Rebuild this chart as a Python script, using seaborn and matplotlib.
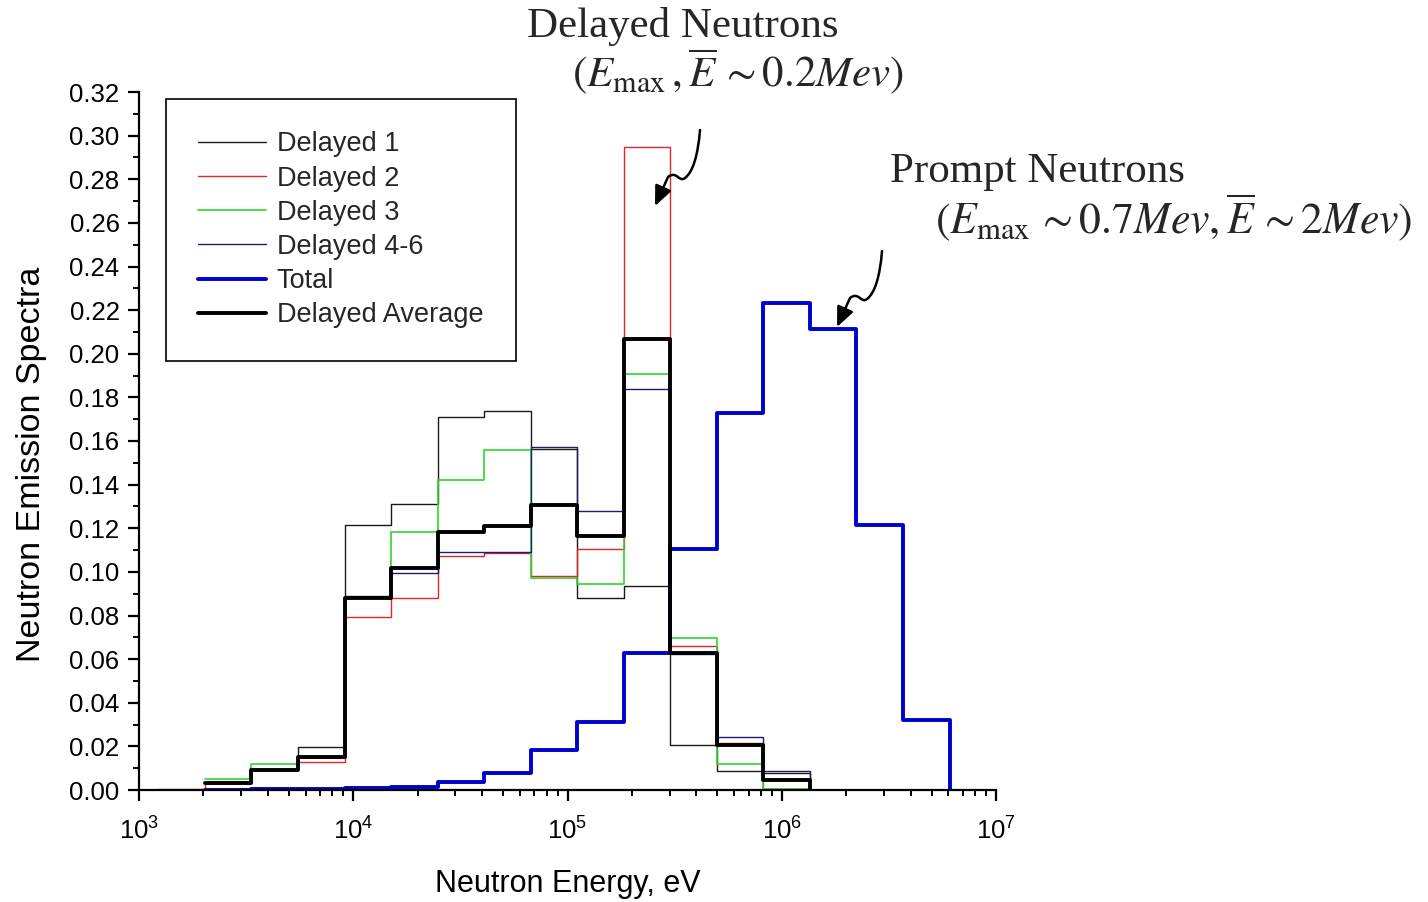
import numpy as np
import pandas as pd
import matplotlib
matplotlib.use("Agg")
import matplotlib.pyplot as plt
from matplotlib.path import Path
from matplotlib.patches import FancyArrowPatch
from matplotlib.ticker import MultipleLocator, FormatStrFormatter, LogLocator
import seaborn as sns

# =========================
# Setup
# =========================
sns.set_theme(style="ticks")
plt.rcParams["font.family"] = ["Liberation Sans", "DejaVu Sans"]

W, H = 1428, 902

# =========================
# Data (lower bin edges in eV, half-lethargy groups)
# =========================
nan = np.nan
energy_edges = [1.23e3, 2.03e3, 3.35e3, 5.53e3, 9.12e3, 1.50e4, 2.48e4, 4.09e4, 6.74e4,
                1.11e5, 1.83e5, 3.02e5, 4.98e5, 8.21e5, 1.35e6, 2.23e6, 3.68e6, 6.07e6]

delayed_1 = [nan, 0.0030, 0.0095, 0.0199, 0.1214, 0.1309, 0.1708, 0.1738, 0.1565,
             0.0879, 0.0933, 0.0206, 0.0087, 0.0080, 0.0, nan, nan, nan]
delayed_2 = [0.0006, 0.0030, 0.0092, 0.0128, 0.0792, 0.0879, 0.1073, 0.1085, 0.0981,
             0.1104, 0.2950, 0.0660, 0.0214, 0.0006, 0.0, nan, nan, nan]
delayed_3 = [nan, 0.0049, 0.0118, 0.0145, 0.0885, 0.1183, 0.1421, 0.1561, 0.0971,
             0.0943, 0.1909, 0.0699, 0.0118, 0.0006, 0.0, nan, nan, nan]
delayed_4_6 = [nan, 0.0032, 0.0095, 0.0150, 0.0890, 0.0997, 0.1091, 0.1091, 0.1572,
               0.1280, 0.1840, 0.0625, 0.0245, 0.0087, 0.0, nan, nan, nan]
total = [nan, 0.0002, 0.0003, 0.0006, 0.0010, 0.0016, 0.0037, 0.0080, 0.0183,
         0.0314, 0.0627, 0.1104, 0.1727, 0.2231, 0.2112, 0.1217, 0.0319, 0.0]
delayed_avg = [nan, 0.0034, 0.0092, 0.0151, 0.0882, 0.1020, 0.1183, 0.1211, 0.1307,
               0.1165, 0.2066, 0.0630, 0.0208, 0.0046, 0.0, nan, nan, nan]

series = [
    ("Delayed 1", delayed_1, "#1a1a1a", 1.0),
    ("Delayed 2", delayed_2, "#e02828", 1.0),
    ("Delayed 3", delayed_3, "#2fd62f", 1.2),
    ("Delayed 4-6", delayed_4_6, "#1c1c70", 1.0),
    ("Total", total, "#0000cc", 2.8),
    ("Delayed Average", delayed_avg, "black", 2.8),
]


def px(x, y):
    return x / W, 1 - y / H


# =========================
# Figure
# =========================
fig = plt.figure(figsize=(W / 100, H / 100), dpi=100)
ax = fig.add_axes([139 / W, 112 / H, 857 / W, 698 / H])

for name, vals, color, lw in series:
    df = pd.DataFrame({"energy": energy_edges, "spectrum": vals})
    sns.lineplot(data=df, x="energy", y="spectrum", ax=ax, color=color,
                 linewidth=lw, drawstyle="steps-post", label=name,
                 estimator=None, sort=True)

ax.set_xscale("log")
ax.set_xlim(1e3, 1e7)
ax.set_ylim(0, 0.32)
ax.yaxis.set_major_locator(MultipleLocator(0.02))
ax.yaxis.set_minor_locator(MultipleLocator(0.01))
ax.yaxis.set_major_formatter(FormatStrFormatter("%.2f"))
ax.xaxis.set_major_locator(LogLocator(base=10, numticks=10))
ax.xaxis.set_minor_locator(LogLocator(base=10, subs=np.arange(2, 10), numticks=50))

sns.despine(ax=ax)
for side in ["left", "bottom"]:
    ax.spines[side].set_linewidth(1.6)
    ax.spines[side].set_color("black")
ax.tick_params(which="major", direction="out", length=8, width=1.6,
               labelsize=18.5, colors="black", pad=6)
ax.tick_params(axis="x", which="major", pad=12)
ax.tick_params(which="minor", direction="out", length=4.5, width=1.4, colors="black")
ax.grid(False)

ax.set_xlabel("Neutron Energy, eV", fontsize=22, labelpad=17, color="black")
ax.set_ylabel("Neutron Emission Spectra", fontsize=24.5, color="black")
ax.yaxis.set_label_coords(-0.107, 0.467)

leg = ax.legend(loc="upper left", bbox_to_anchor=(0.031, 0.99), borderaxespad=0,
                fontsize=19.5, handlelength=2.5, handletextpad=0.4,
                labelspacing=0.3, borderpad=1.2, fancybox=False, framealpha=1)
leg.get_frame().set_edgecolor("black")
leg.get_frame().set_linewidth(1.2)

# =========================
# Annotations
# =========================
serif = ["Liberation Serif", "DejaVu Serif"]
fig.text(*px(527, 26), "Delayed Neutrons", fontsize=31, family=serif,
         ha="left", va="center")
fig.text(*px(572, 72), r"$(E_{\mathrm{max}}\,,\overline{E}\,\sim 0.2Mev)$",
         fontsize=31, math_fontfamily="stix", ha="left", va="center")
fig.text(*px(890, 172), "Prompt Neutrons", fontsize=31, family=serif,
         ha="left", va="center")
fig.text(*px(935, 218), r"$(E_{\mathrm{max}}\,\sim 0.7Mev,\overline{E}\,\sim 2Mev)$",
         fontsize=31.5, math_fontfamily="stix", ha="left", va="center")

squiggle = [(700, 130), (698, 155), (693, 172), (685, 178),
            (679, 183), (677, 170), (668, 177), (655, 206)]
codes = [Path.MOVETO, Path.CURVE4, Path.CURVE4, Path.CURVE4,
         Path.CURVE4, Path.CURVE4, Path.CURVE4, Path.LINETO]
for dx, dy in [(0, 0), (182, 121)]:
    verts = [px(x + dx, y + dy) for x, y in squiggle]
    arrow = FancyArrowPatch(path=Path(verts, codes),
                            arrowstyle="-|>,head_length=0.8,head_width=0.35",
                            mutation_scale=15, lw=1.8, color="black",
                            transform=fig.transFigure)
    fig.add_artist(arrow)

fig.savefig("out.png", dpi=100)
plt.close(fig)
